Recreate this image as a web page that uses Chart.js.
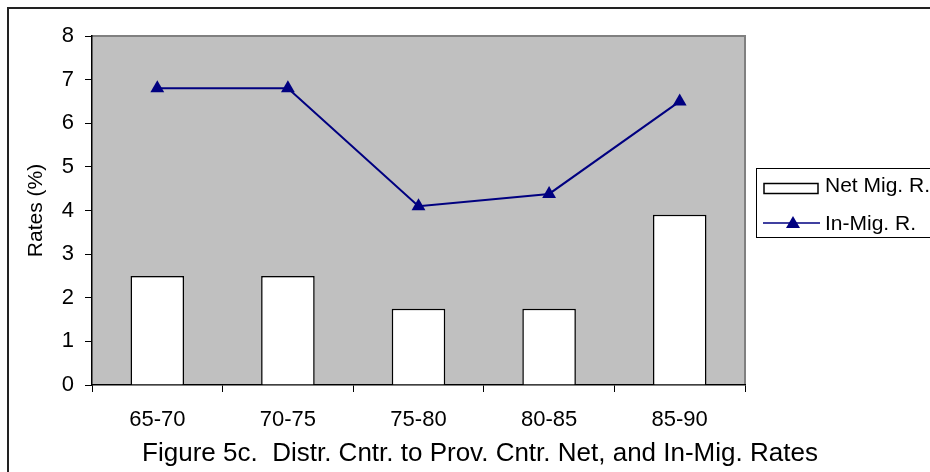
<!DOCTYPE html>
<html>
<head>
<meta charset="utf-8">
<script src="https://cdn.jsdelivr.net/npm/chart.js@4/dist/chart.umd.min.js"></script>
<style>
  html, body { margin: 0; padding: 0; background: #fff; overflow: hidden; }
  #wrap { position: relative; width: 960px; height: 490px; }
</style>
</head>
<body>
<div id="wrap"><canvas id="chart"></canvas></div>
<script>
// periods on the x axis
const periods = ['65-70', '70-75', '75-80', '80-85', '85-90'];
// net migration rate (bars)
const netMigRate = [2.5, 2.5, 1.75, 1.75, 3.9];
// in-migration rate (line)
const inMigRate = [6.8, 6.8, 4.1, 4.38, 6.5];
// y axis ticks
const yMin = 0;
const yMax = 8;
const yStep = 1;

const FONT = '"Liberation Sans", Arial, sans-serif';
const NAVY = '#000080';

// gray plot background + outer frame
const backdrop = {
  id: 'backdrop',
  beforeDraw(chart) {
    const { ctx, chartArea: a } = chart;
    ctx.save();
    ctx.fillStyle = '#fff';
    ctx.fillRect(0, 0, chart.width, chart.height);
    ctx.strokeStyle = '#222';
    ctx.lineWidth = 2;
    ctx.strokeRect(8, 8, chart.width + 20, chart.height + 20);
    ctx.fillStyle = '#c0c0c0';
    ctx.fillRect(a.left, a.top, a.right - a.left, a.bottom - a.top);
    ctx.strokeStyle = '#808080';
    ctx.lineWidth = 2;
    ctx.beginPath();
    ctx.moveTo(a.left, a.top);
    ctx.lineTo(a.right, a.top);
    ctx.lineTo(a.right, a.bottom);
    ctx.stroke();
    ctx.restore();
  }
};

// boxed legend at the right, like the original
const boxLegend = {
  id: 'boxLegend',
  afterDraw(chart) {
    const { ctx } = chart;
    const bars = chart.data.datasets.find(d => d.type === 'bar');
    const line = chart.data.datasets.find(d => d.type === 'line');
    const x = 756, y = 168, w = 200, h = 69;
    ctx.save();
    ctx.fillStyle = '#fff';
    ctx.fillRect(x, y, w, h);
    ctx.strokeStyle = '#000';
    ctx.lineWidth = 1;
    ctx.strokeRect(x + 0.5, y + 0.5, w, h);
    ctx.font = '21px ' + FONT;
    ctx.textBaseline = 'middle';
    ctx.fillStyle = '#000';

    // bar entry
    ctx.lineWidth = 1.5;
    ctx.strokeRect(764, 183.5, 54, 10);
    ctx.fillText(bars.label, 825, 186);

    // line entry
    ctx.strokeStyle = NAVY;
    ctx.lineWidth = 1.5;
    ctx.beginPath();
    ctx.moveTo(763, 223);
    ctx.lineTo(820, 223);
    ctx.stroke();
    ctx.fillStyle = NAVY;
    ctx.beginPath();
    ctx.moveTo(793, 216);
    ctx.lineTo(800, 228);
    ctx.lineTo(786, 228);
    ctx.closePath();
    ctx.fill();
    ctx.fillStyle = '#000';
    ctx.fillText(line.label, 825, 224);
    ctx.restore();
  }
};

new Chart(document.getElementById('chart'), {
  type: 'bar',
  data: {
    labels: periods,
    datasets: [
      {
        type: 'line',
        label: 'In-Mig. R.',
        data: inMigRate,
        borderColor: NAVY,
        backgroundColor: NAVY,
        borderWidth: 2,
        pointStyle: 'triangle',
        pointRadius: 8,
        pointBorderWidth: 0,
        tension: 0,
        order: 0
      },
      {
        type: 'bar',
        label: 'Net Mig. R.',
        data: netMigRate,
        backgroundColor: '#fff',
        borderColor: '#000',
        borderWidth: 1.5,
        barPercentage: 0.41,
        categoryPercentage: 1,
        order: 1
      }
    ]
  },
  options: {
    responsive: true,
    maintainAspectRatio: false,
    animation: false,
    layout: { padding: { left: 0, top: 36, right: 0, bottom: 0 } },
    plugins: {
      legend: { display: false },
      tooltip: { enabled: false },
      title: {
        display: true,
        position: 'bottom',
        text: 'Figure 5c.  Distr. Cntr. to Prov. Cntr. Net, and In-Mig. Rates',
        color: '#000',
        font: { family: FONT, size: 26, weight: 'normal' },
        padding: { top: 5, bottom: 20.8 }
      }
    },
    scales: {
      x: {
        offset: true,
        grid: {
          offset: true,
          drawOnChartArea: false,
          drawTicks: true,
          tickLength: 7,
          color: '#000'
        },
        border: { display: true, color: '#000', width: 1.5 },
        ticks: {
          color: '#000',
          padding: 15,
          maxRotation: 0,
          font: { family: FONT, size: 22 }
        },
        afterFit(scale) { scale.height = 48; }
      },
      y: {
        min: yMin,
        max: yMax,
        grid: {
          drawOnChartArea: false,
          drawTicks: true,
          tickLength: 7,
          color: '#000'
        },
        border: { display: true, color: '#000', width: 1.5 },
        ticks: {
          stepSize: yStep,
          color: '#000',
          padding: 11,
          font: { family: FONT, size: 22 }
        },
        title: {
          display: true,
          text: 'Rates (%)',
          color: '#000',
          font: { family: FONT, size: 21 },
          padding: { top: 24, bottom: 0 }
        },
        afterFit(scale) { scale.width = 92; }
      },
      // empty right-hand strip that leaves room for the legend box
      spacer: {
        position: 'right',
        grid: { display: false },
        border: { display: false },
        ticks: { display: false },
        afterFit(scale) { scale.width = 215; }
      }
    }
  },
  plugins: [backdrop, boxLegend]
});
</script>
</body>
</html>
